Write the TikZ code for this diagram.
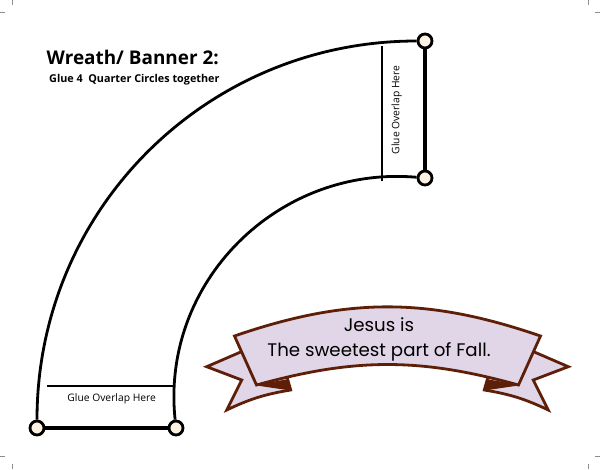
\documentclass[tikz,border=0pt]{standalone}
\usepackage{fontspec}
\setmainfont{Open Sans}
\newfontfamily\bannerfont{Poppins}
\usetikzlibrary{positioning}
\definecolor{cream}{HTML}{FDF1E2}
\definecolor{lilac}{HTML}{E1D5E8}
\definecolor{ribbon}{HTML}{5E1F08}
\definecolor{cropgray}{HTML}{8C8C8C}
\tikzset{
    pin/.style = {circle, line width=2.8pt, draw=black, fill=cream, inner sep=0pt, minimum size=14pt},
    edgen/.style = {line width=2.8pt, black},
    edges/.style = {line width=3.1pt, black},
    gluen/.style = {line width=1.3pt, black},
    gluetext/.style = {font=\fontsize{10.3}{12}\selectfont, inner sep=0pt},
    band/.style = {draw=ribbon, fill=lilac, line width=2.8pt, line join=miter},
    fold/.style = {draw=ribbon, fill=ribbon, line width=1pt, line join=round},
    crop/.style = {cropgray, line width=0.6pt}
}
\begin{document}
\begin{tikzpicture}[x=1pt,y=1pt]
\path[use as bounding box, fill=white] (0,0) rectangle (600,469);
% crop marks
\foreach \cx/\cy/\dx/\dy in {12.7/469/0/-5, 0/456.3/5/0, 588.3/469/0/-5, 600/456.3/-5/0,
                              12.7/0/0/5, 0/12.7/5/0, 588.3/0/0/5, 600/12.7/-5/0}
  \draw[crop] (\cx,\cy) -- ++(\dx,\dy);
%
\node[anchor=base west, font=\bfseries\fontsize{18.9}{23}\selectfont, inner sep=0pt] at (46.5,404) (title) {Wreath/ Banner 2:};
\node[anchor=base west, font=\bfseries\fontsize{10.8}{12}\selectfont, inner sep=0pt] at (49,386.7) (sub) {Glue 4\ \ Quarter Circles together};
%
\node[pin] at (37, 41) (bl) {};
\node[pin] at (176, 41) (br) {};
\node[pin] at (425, 428) (tro) {};
\node[pin] at (425, 291) (tri) {};
%
\draw[edgen] (bl) to[out=90, in=180] (tro);
\draw[edgen] (br) to[out=96, in=175, looseness=1.04] (tri);
\draw[edges] (bl) -- (br);
\draw[edges] (tro) -- (tri);
%
\coordinate (ga) at (382, 423);
\coordinate (gb) at (382, 288);
\coordinate (gc) at (46.7, 83);
\coordinate (gd) at (175, 83);
\draw[gluen] (ga) -- (gb);
\draw[gluen] (gc) -- (gd);
\node[gluetext, rotate=90] at (396.7, 359) (glueright) {Glue Overlap Here};
\node[gluetext] at (111.7, 70) (glueleft) {Glue Overlap Here};
%
% banner: tails, folds, then the band
\draw[band] (243,118) -- (206.7,102.3) -- (241.7,89) -- (226.7,59) to[bend left=8] (290.7,79) -- (287,92) -- cycle;
\draw[band] (532,118) -- (568.3,102.3) -- (533.3,89) -- (548.3,59) to[bend right=8] (484.3,79) -- (488,92) -- cycle;
\draw[fold] (256.5,84) -- (286.7,89) -- (290.7,79) -- cycle;
\draw[fold] (518.5,84) -- (488.3,89) -- (484.3,79) -- cycle;
\draw[band] (234.5,133) to[bend left=19] (540.5,133) -- (518.5,84) to[bend right=15.5] (256.5,84) -- cycle;
\node[font=\bannerfont\fontsize{18.2}{25}\selectfont, align=center, inner sep=0pt] at (379,130) (msg) {Jesus is\\The sweetest part of Fall.};
\end{tikzpicture}
\end{document}
